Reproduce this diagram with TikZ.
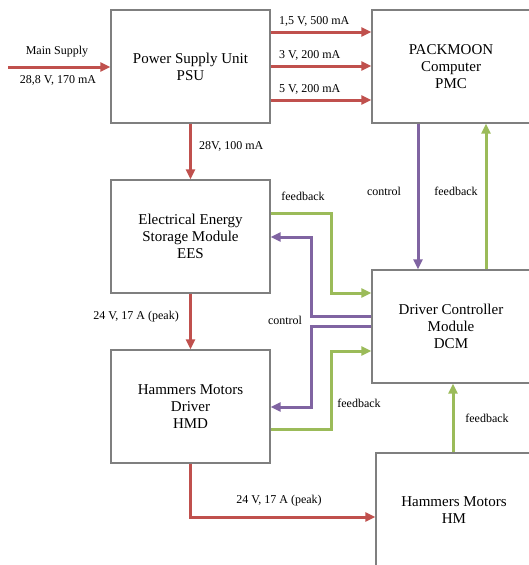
\documentclass[tikz,border=0pt]{standalone}
\usepackage{fontspec}
\setmainfont{Liberation Serif}
\usetikzlibrary{arrows.meta}
\definecolor{cred}{HTML}{C0504D}
\definecolor{cpur}{HTML}{8064A2}
\definecolor{cgrn}{HTML}{9BBB59}
\definecolor{cbox}{HTML}{7F7F7F}
\tikzset{
  blk/.style={draw=cbox, line width=1.3pt, fill=white, align=center, inner sep=0pt,
    font=\fontsize{15}{17}\selectfont},
  lbl/.style={font=\fontsize{12}{14}\selectfont, inner sep=0pt},
  arr/.style={line width=3pt, -{Triangle[length=10pt,width=9pt]}},
  redarr/.style={arr, draw=cred},
  purarr/.style={arr, draw=cpur},
  grnarr/.style={arr, draw=cgrn},
}
\begin{document}
\begin{tikzpicture}[x=1pt,y=-1pt]
\useasboundingbox (0,0) rectangle (529,565);
\clip (0,0) rectangle (529,565);
\fill[white] (0,0) rectangle (529,565);
% boxes
\node[blk, minimum width=159pt, minimum height=113pt] (psu) at (190.5,66.5) {Power Supply Unit\\PSU};
\node[blk, minimum width=158pt, minimum height=113pt] (pmc) at (451,66.5) {PACKMOON\\Computer\\PMC};
\node[blk, minimum width=159pt, minimum height=113pt] (ees) at (190.5,236.5) {Electrical Energy\\Storage Module\\EES};
\node[blk, minimum width=159pt, minimum height=113pt] (hmd) at (190.5,406.5) {Hammers Motors\\Driver\\HMD};
\node[blk, minimum width=158pt, minimum height=113pt] (dcm) at (451,326.5) {Driver Controller\\Module\\DCM};
\node[blk, minimum width=156pt, minimum height=114pt] (hm) at (454,510) {Hammers Motors\\HM};
% main supply
\coordinate (ms) at (8,67);
\draw[redarr] (ms) -- (ms -| psu.west);
\node[lbl] (msl1) at (57,52) {Main Supply};
\node[lbl] (msl2) at (58,80) {28,8 V, 170 mA};
% PSU -> PMC
\draw[redarr] (psu.east |- 0,32) -- (pmc.west |- 0,32);
\draw[redarr] (psu.east |- 0,66) -- (pmc.west |- 0,66);
\draw[redarr] (psu.east |- 0,100) -- (pmc.west |- 0,100);
\node[lbl, anchor=west] (l15) at (279,21) {1,5 V, 500 mA};
\node[lbl, anchor=west] (l3) at (279,55) {3 V, 200 mA};
\node[lbl, anchor=west] (l5) at (279,89) {5 V, 200 mA};
% PSU -> EES
\draw[redarr] (psu.south) -- (ees.north);
\node[lbl, anchor=west] (l28) at (199,146) {28V, 100 mA};
% EES -> HMD
\draw[redarr] (ees.south) -- (hmd.north);
\node[lbl, anchor=east] (l24a) at (179,317) {24 V, 17 A (peak)};
% HMD -> HM
\draw[redarr] (hmd.south) |- (hm.west |- 0,517);
\node[lbl] (l24b) at (279,501) {24 V, 17 A (peak)};
% PMC <-> DCM
\draw[purarr] (pmc.south -| 418,0) -- (dcm.north -| 418,0);
\node[lbl] (lc1) at (384,191) {control};
\draw[grnarr] (dcm.north -| 486,0) -- (pmc.south -| 486,0);
\node[lbl] (lf1) at (456,191) {feedback};
% EES <-> DCM
\draw[grnarr] (ees.east |- 0,213) -- (331,213) -- (331,293) -- (dcm.west |- 0,293);
\node[lbl] (lf2) at (303,196) {feedback};
\draw[purarr] (dcm.west |- 0,316) -- (311,316) -- (311,237) -- (ees.east |- 0,237);
% HMD <-> DCM
\draw[purarr] (dcm.west |- 0,326) -- (311,326) -- (311,407) -- (hmd.east |- 0,407);
\node[lbl] (lc2) at (285,320) {control};
\draw[grnarr] (hmd.east |- 0,429) -- (331,429) -- (331,351) -- (dcm.west |- 0,351);
\node[lbl] (lf3) at (359,403) {feedback};
% HM -> DCM
\draw[grnarr] (hm.north -| 453,0) -- (dcm.south -| 453,0);
\node[lbl] (lf4) at (487,418) {feedback};
\end{tikzpicture}
\end{document}
